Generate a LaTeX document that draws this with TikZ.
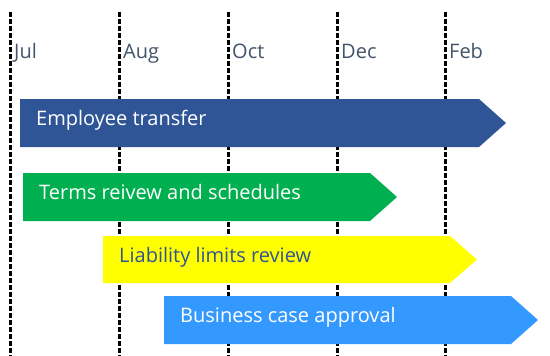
\documentclass[tikz,border=0pt]{standalone}
\usepackage{fontspec}
\setmainfont{Open Sans}
\definecolor{bblue}{HTML}{2F5597}
\definecolor{bgreen}{HTML}{00B050}
\definecolor{byellow}{HTML}{FFFF00}
\definecolor{blight}{HTML}{3399FF}
\definecolor{mgray}{HTML}{44546A}
\begin{document}
\begin{tikzpicture}[x=1pt,y=-1pt,
  grid/.style={line width=3pt,dash pattern=on 5pt off 2pt,black},
  month/.style={anchor=base west,inner sep=0pt,text=mgray,font=\fontsize{20}{23}\selectfont},
  barlabel/.style={anchor=base west,inner sep=0pt,font=\fontsize{20}{23}\selectfont}]
\useasboundingbox (0,0) rectangle (550,356);
\fill[white] (0,0) rectangle (550,356);
% grid lines
\foreach \x/\n in {10/a,119/b,228/c,337/d,445/e}{
  \coordinate (t\n) at (\x,12);
  \coordinate (b\n) at (\x,356);
  \draw[grid] (t\n) -- (b\n);
}
% month labels
\node[month] (jul) at (14,59) {Jul};
\node[month] (aug) at (123,59) {Aug};
\node[month] (oct) at (232,59) {Oct};
\node[month] (dec) at (341,59) {Dec};
\node[month] (feb) at (449,59) {Feb};
% bars
\fill[bblue] (20,99) -- (479,99) -- (506,123) -- (479,147) -- (20,147) -- cycle;
\node[barlabel,text=white] (emp) at (36,125) {Employee transfer};
\fill[bgreen] (23,173) -- (370,173) -- (397,197) -- (370,221) -- (23,221) -- cycle;
\node[barlabel,text=white] (terms) at (39,199) {Terms reivew and schedules};
\fill[byellow] (103,236) -- (450,236) -- (477,259.5) -- (450,283) -- (103,283) -- cycle;
\node[barlabel,text=bblue] (liab) at (119,262) {Liability limits review};
\fill[blight] (164,296) -- (511,296) -- (538,320) -- (511,344) -- (164,344) -- cycle;
\node[barlabel,text=white] (bus) at (180,322) {Business case approval};
\end{tikzpicture}
\end{document}
